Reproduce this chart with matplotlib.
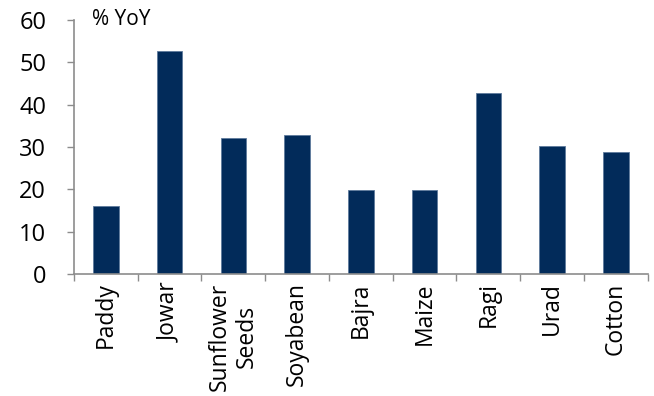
import matplotlib
matplotlib.use("Agg")
import matplotlib.pyplot as plt
import numpy as np

crops = ["Paddy", "Jowar", "Sunflower\nSeeds", "Soyabean", "Bajra", "Maize", "Ragi", "Urad", "Cotton"]
yoy_growth = [16.0, 52.7, 32.0, 32.9, 19.8, 19.8, 42.8, 30.2, 28.8]
y_ticks = [0, 10, 20, 30, 40, 50, 60]

plt.rcParams["font.family"] = ["Open Sans", "DejaVu Sans"]

fig = plt.figure(figsize=(6.54, 3.96), dpi=100)
ax = fig.add_axes([0.1131, 0.308, 0.8773, 0.642])

x = np.arange(len(crops))
ax.bar(x, yoy_growth, width=0.40, color="#022B5A", edgecolor="#5E7A9C", linewidth=0.6, zorder=2)

ax.set_xlim(-0.5, len(crops) - 0.5)
ax.set_ylim(0, 60)
ax.set_yticks(y_ticks)
ax.set_yticklabels([str(v) for v in y_ticks], fontsize=17)

# Category ticks sit on the boundaries between bars; labels are centred on bars
ax.set_xticks(np.arange(-0.5, len(crops), 1.0))
ax.set_xticklabels([])
ax.set_xticks(x, minor=True)
ax.set_xticklabels(crops, minor=True, rotation=90, fontsize=16.5, ha="center", va="top",
                   multialignment="center", linespacing=1.2)
ax.tick_params(axis="x", which="minor", length=0, pad=6)
ax.tick_params(axis="x", which="major", length=5, width=1, color="#8C8C8C", direction="out")
ax.tick_params(axis="y", length=5, width=1, color="#8C8C8C", direction="out", pad=15)

for side in ("top", "right"):
    ax.spines[side].set_visible(False)
for side in ("left", "bottom"):
    ax.spines[side].set_color("#8C8C8C")
    ax.spines[side].set_linewidth(1.2)

ax.text(0.031, 1.0, "% YoY", transform=ax.transAxes, fontsize=15, ha="left", va="center")

fig.savefig("out.png", dpi=100)
